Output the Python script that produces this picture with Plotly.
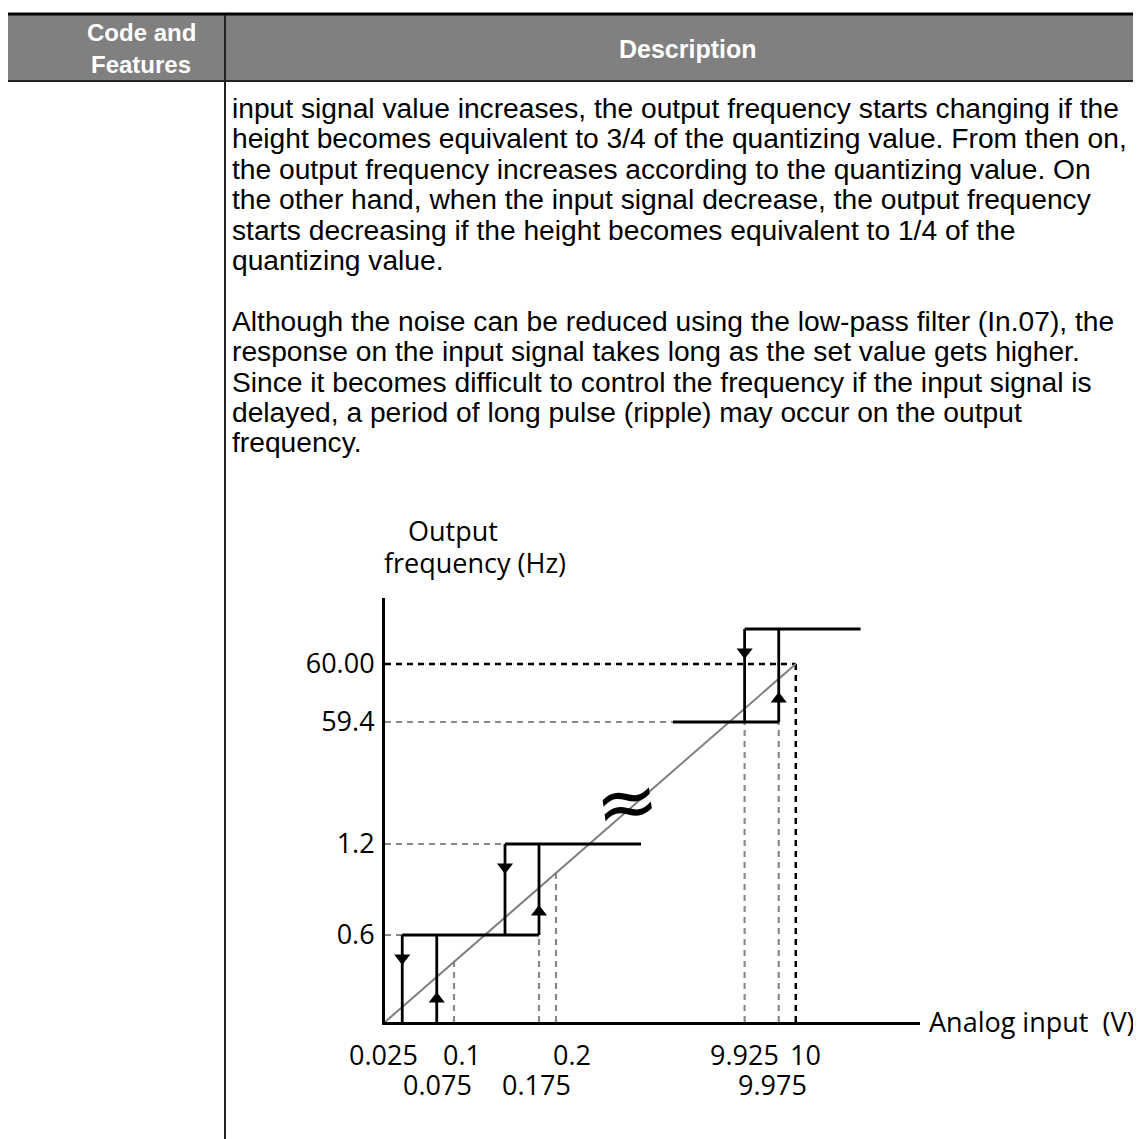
import numpy as np
import plotly.graph_objects as go

W, H = 1141, 1139

# ---------------- text content ----------------
HEADER_LEFT = ["Code and", "Features"]
HEADER_RIGHT = ["Description"]
PARA_1 = [
    "input signal value increases, the output frequency starts changing if the",
    "height becomes equivalent to 3/4 of the quantizing value. From then on,",
    "the output frequency increases according to the quantizing value. On",
    "the other hand, when the input signal decrease, the output frequency",
    "starts decreasing if the height becomes equivalent to 1/4 of the",
    "quantizing value.",
]
PARA_2 = [
    "Although the noise can be reduced using the low-pass filter (In.07), the",
    "response on the input signal takes long as the set value gets higher.",
    "Since it becomes difficult to control the frequency if the input signal is",
    "delayed, a period of long pulse (ripple) may occur on the output",
    "frequency.",
]
Y_TITLE = ["Output", "frequency (Hz)"]
X_TITLE = "Analog input  (V)"

# ---------------- diagram data (V, Hz) ----------------
Y_TICK_VALUES = [0.6, 1.2, 59.4, 60.0]
Y_TICK_TEXT = ["0.6", "1.2", "59.4", "60.00"]
X_TICKS_ROW1 = [0.025, 0.1, 0.2, 9.925, 10.0]
X_TEXT_ROW1 = ["0.025", "0.1", "0.2", "9.925", "10"]
X_TICKS_ROW2 = [0.075, 0.175, 9.975]
X_TEXT_ROW2 = ["0.075", "0.175", "9.975"]

LEVEL_HZ = [0.6, 1.2, 59.4, 60.6]
LEVEL_FROM_V = [0.025, 0.125, 9.82, 9.925]
LEVEL_TO_V = [0.175, 0.325, 9.975, 10.095]

DOWN_V = [0.025, 0.125, 9.925]
DOWN_FROM_HZ = [0.6, 1.2, 60.6]
DOWN_TO_HZ = [0.0, 0.6, 59.4]
UP_V = [0.075, 0.175, 9.975]
UP_FROM_HZ = [0.0, 0.6, 59.4]
UP_TO_HZ = [0.6, 1.2, 60.6]

IDEAL_V = [0.0, 10.0]
IDEAL_HZ = [0.0, 60.0]

H_GUIDE_HZ = [0.6, 1.2, 59.4, 60.0]
H_GUIDE_TO_V = [0.025, 0.125, 9.82, 10.0]
V_GUIDE_V = [0.1, 0.175, 0.2, 9.925, 9.975, 10.0]
V_GUIDE_TO_HZ = [None, 0.6, None, 59.4, 59.4, 60.0]  # None -> up to the ideal line

# ---------------- broken-axis display scale ----------------
X_BREAK_V = [0.0, 0.1, 0.125, 0.325, 9.82, 10.1]
X_BREAK_D = [0, 69, 120, 256, 288, 479]
Y_BREAK_HZ = [0.0, 0.6, 1.2, 59.4, 60.0, 60.6]
Y_BREAK_D = [0, 87, 178, 300, 358, 393]


def sx(v):
    return float(np.interp(v, X_BREAK_V, X_BREAK_D))


def sy(v):
    return float(np.interp(v, Y_BREAK_HZ, Y_BREAK_D))


IDEAL_SLOPE = (sy(IDEAL_HZ[1]) - sy(IDEAL_HZ[0])) / (sx(IDEAL_V[1]) - sx(IDEAL_V[0]))


def ideal_at(d):
    return sy(IDEAL_HZ[0]) + (d - sx(IDEAL_V[0])) * IDEAL_SLOPE


def px(x):
    return x / W


def py(y):
    return 1 - y / H


AX_X0, AX_X1 = 377, 912
AX_Y0, AX_Y1 = 1014, 590
DIAG_FONT = "Open Sans, Noto Sans, sans-serif"
TEXT_FONT = "Liberation Sans, Arial, sans-serif"
HEAD_FONT = "Liberation Sans, Arial, sans-serif"
DFS = 27

fig = go.Figure()

GRAY = "#8a8a8a"


def seg_trace(xs, ys, color, width, dash="solid"):
    fig.add_trace(go.Scatter(x=xs, y=ys, mode="lines", hoverinfo="skip",
                             line=dict(color=color, width=width, dash=dash),
                             showlegend=False, cliponaxis=False))


# guides
gx, gy, bx, by = [], [], [], []
for hz, v in zip(H_GUIDE_HZ, H_GUIDE_TO_V):
    xs, ys = [0, sx(v), None], [sy(hz), sy(hz), None]
    if hz == IDEAL_HZ[1]:
        bx += xs; by += ys
    else:
        gx += xs; gy += ys
for v, hz in zip(V_GUIDE_V, V_GUIDE_TO_HZ):
    top = ideal_at(sx(v)) if hz is None else sy(hz)
    xs, ys = [sx(v), sx(v), None], [0, top, None]
    if v == IDEAL_V[1]:
        bx += xs; by += ys
    else:
        gx += xs; gy += ys
seg_trace(gx, gy, GRAY, 2.2, "6px,5px")
seg_trace(bx, by, "#000000", 2.5, "6px,5px")

# ideal line
seg_trace([sx(v) for v in IDEAL_V], [sy(h) for h in IDEAL_HZ], "#7f7f7f", 2)

# staircase
sxs, sys_ = [], []
for hz, a, b in zip(LEVEL_HZ, LEVEL_FROM_V, LEVEL_TO_V):
    sxs += [sx(a), sx(b), None]; sys_ += [sy(hz), sy(hz), None]
for v, a, b in zip(DOWN_V, DOWN_FROM_HZ, DOWN_TO_HZ):
    sxs += [sx(v), sx(v), None]; sys_ += [sy(a), sy(b), None]
for v, a, b in zip(UP_V, UP_FROM_HZ, UP_TO_HZ):
    sxs += [sx(v), sx(v), None]; sys_ += [sy(a), sy(b), None]
seg_trace(sxs, sys_, "#000000", 2.8)

# arrow heads
ARROW_OFF = 23
fig.add_trace(go.Scatter(x=[sx(v) for v in DOWN_V], y=[sy(a) - ARROW_OFF for a in DOWN_FROM_HZ],
                         mode="markers", marker=dict(symbol="triangle-down", size=14, color="#000"),
                         showlegend=False, hoverinfo="skip", cliponaxis=False))
fig.add_trace(go.Scatter(x=[sx(v) for v in UP_V], y=[sy(a) + ARROW_OFF for a in UP_FROM_HZ],
                         mode="markers", marker=dict(symbol="triangle-up", size=14, color="#000"),
                         showlegend=False, hoverinfo="skip", cliponaxis=False))

ann = []
ROW1_SHIFT = [-19, 8, 16, 0, 10]
ROW2_SHIFT = [1, -3, -6]
for v, t, s in zip(X_TICKS_ROW1, X_TEXT_ROW1, ROW1_SHIFT):
    ann.append(dict(x=sx(v), y=py(1046), xref="x", yref="paper", text=t, showarrow=False,
                    xshift=s, xanchor="center", yanchor="middle",
                    font=dict(family=DIAG_FONT, size=DFS, color="#000")))
for v, t, s in zip(X_TICKS_ROW2, X_TEXT_ROW2, ROW2_SHIFT):
    ann.append(dict(x=sx(v), y=py(1076), xref="x", yref="paper", text=t, showarrow=False,
                    xshift=s, xanchor="center", yanchor="middle",
                    font=dict(family=DIAG_FONT, size=DFS, color="#000")))

ann.append(dict(x=px(919), y=py(1013), xref="paper", yref="paper", text=X_TITLE, showarrow=False,
                xanchor="left", yanchor="middle", font=dict(family=DIAG_FONT, size=DFS, color="#000")))
ann.append(dict(x=px(398), y=py(522), xref="paper", yref="paper", text=Y_TITLE[0], showarrow=False,
                xanchor="left", yanchor="middle", font=dict(family=DIAG_FONT, size=DFS, color="#000")))
ann.append(dict(x=px(374), y=py(554), xref="paper", yref="paper", text=Y_TITLE[1], showarrow=False,
                xanchor="left", yanchor="middle", font=dict(family=DIAG_FONT, size=DFS, color="#000")))

# break symbol
ann.append(dict(x=px(619), y=py(793), xref="paper", yref="paper", text="\u2248", showarrow=False,
                xanchor="center", yanchor="middle", textangle=-8,
                font=dict(family="DejaVu Sans", size=76, color="#000")))

for i, line in enumerate(PARA_1):
    ann.append(dict(x=px(222), y=py(100 + i * 30.4), xref="paper", yref="paper", text=line,
                    showarrow=False, xanchor="left", yanchor="middle",
                    font=dict(family=TEXT_FONT, size=28.2, color="#000")))
for i, line in enumerate(PARA_2):
    ann.append(dict(x=px(222), y=py(313 + i * 30.3), xref="paper", yref="paper", text=line,
                    showarrow=False, xanchor="left", yanchor="middle",
                    font=dict(family=TEXT_FONT, size=28.2, color="#000")))

for i, t in enumerate(HEADER_LEFT):
    ann.append(dict(x=px(133), y=py(25 + i * 32), xref="paper", yref="paper", text="<b>%s</b>" % t,
                    showarrow=False, xanchor="center", yanchor="middle",
                    font=dict(family=HEAD_FONT, size=24, color="#ffffff")))
ann.append(dict(x=px(680), y=py(41), xref="paper", yref="paper", text="<b>%s</b>" % HEADER_RIGHT[0],
                showarrow=False, xanchor="center", yanchor="middle",
                font=dict(family=HEAD_FONT, size=25, color="#ffffff")))

shapes = [
    dict(type="rect", xref="paper", yref="paper", x0=0, x1=1, y0=py(72), y1=py(7),
         fillcolor="#808080", line=dict(width=0), layer="below"),
    dict(type="line", xref="paper", yref="paper", x0=0, x1=1, y0=py(6), y1=py(6),
         line=dict(color="#000", width=3)),
    dict(type="line", xref="paper", yref="paper", x0=0, x1=1, y0=py(73), y1=py(73),
         line=dict(color="#222", width=2)),
    dict(type="line", xref="paper", yref="paper", x0=px(217), x1=px(217), y0=py(7), y1=py(1139),
         line=dict(color="#222", width=2)),
]

fig.update_layout(
    width=W, height=H, margin=dict(l=0, r=0, t=0, b=0),
    paper_bgcolor="#ffffff", plot_bgcolor="rgba(0,0,0,0)",
    annotations=ann, shapes=shapes, showlegend=False,
    xaxis=dict(domain=[px(AX_X0), px(AX_X1)], range=[0, AX_X1 - AX_X0], showgrid=False,
               zeroline=False, showticklabels=False, ticks="", showline=True,
               linecolor="#000", linewidth=3, fixedrange=True),
    yaxis=dict(domain=[py(AX_Y0), py(AX_Y1)], range=[0, AX_Y0 - AX_Y1], showgrid=False,
               zeroline=False, ticks="", showline=True, linecolor="#000", linewidth=3,
               tickvals=[sy(v) for v in Y_TICK_VALUES], ticktext=Y_TICK_TEXT,
               tickfont=dict(family=DIAG_FONT, size=DFS, color="#000"),
               ticklabelstandoff=2, fixedrange=True),
)

fig.write_html("out.html")
